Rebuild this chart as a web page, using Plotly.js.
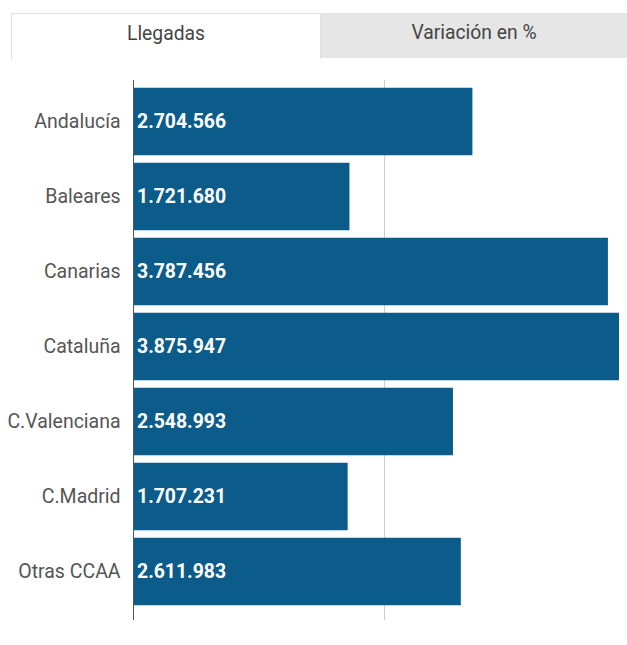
<!DOCTYPE html>
<html>
<head>
<meta charset="utf-8">
<script src="https://cdn.plot.ly/plotly-3.0.1.min.js"></script>
<style>
  html, body { margin: 0; padding: 0; background: #fff; }
  #wrap { position: relative; width: 627px; height: 645px; overflow: hidden; }
  #chart { position: absolute; left: 0; top: 0; width: 627px; height: 645px; }
  .tab { position: absolute; font-family: Roboto, sans-serif; font-size: 19.3px; color: #444;
         text-align: center; box-sizing: border-box; z-index: 5; }
  #tab1 { left: 11px; top: 13px; width: 310px; height: 46px; line-height: 40px; background: #fff;
          border: 1px solid #e0e0e0; border-bottom: none; }
  #tab2 { left: 321px; top: 13px; width: 306px; height: 45px; line-height: 40px; background: #e6e6e6; }
</style>
</head>
<body>
<div id="wrap">
  <div id="chart"></div>
  <div class="tab" id="tab1">Llegadas</div>
  <div class="tab" id="tab2">Variación en %</div>
</div>
<script>
const categories = ["Andalucía", "Baleares", "Canarias", "Cataluña", "C.Valenciana", "C.Madrid", "Otras CCAA"];
const llegadas = [2704566, 1721680, 3787456, 3875947, 2548993, 1707231, 2611983];

const trace = {
  type: "bar",
  orientation: "h",
  y: categories,
  x: llegadas,
  marker: { color: "#0b5b8b" },
  texttemplate: "%{x:,}",
  textposition: "inside",
  insidetextanchor: "start",
  textangle: 0,
  textfont: { family: "Roboto, sans-serif", size: 19.4, color: "#ffffff", weight: 700 },
  hoverinfo: "none",
  cliponaxis: false
};

const layout = {
  width: 627,
  height: 645,
  margin: { l: 134, r: 8, t: 80, b: 25, pad: 0 },
  paper_bgcolor: "#ffffff",
  plot_bgcolor: "#ffffff",
  separators: ",.",
  showlegend: false,
  bargap: 0.1,
  uniformtext: { mode: false },
  xaxis: {
    range: [0, 3875947],
    dtick: 2000000,
    showgrid: true,
    gridcolor: "#cccccc",
    gridwidth: 1,
    zeroline: false,
    showticklabels: false,
    ticks: "",
    showline: false,
    fixedrange: true
  },
  yaxis: {
    type: "category",
    range: [6.647, -0.553],
    showline: true,
    linecolor: "#555555",
    linewidth: 1.5,
    showgrid: false,
    zeroline: false,
    ticks: "",
    ticklabelstandoff: 8,
    tickfont: { family: "Roboto, sans-serif", size: 19.5, color: "#555555" },
    fixedrange: true
  }
};

Plotly.newPlot("chart", [trace], layout, { displayModeBar: false, staticPlot: true });
</script>
</body>
</html>
